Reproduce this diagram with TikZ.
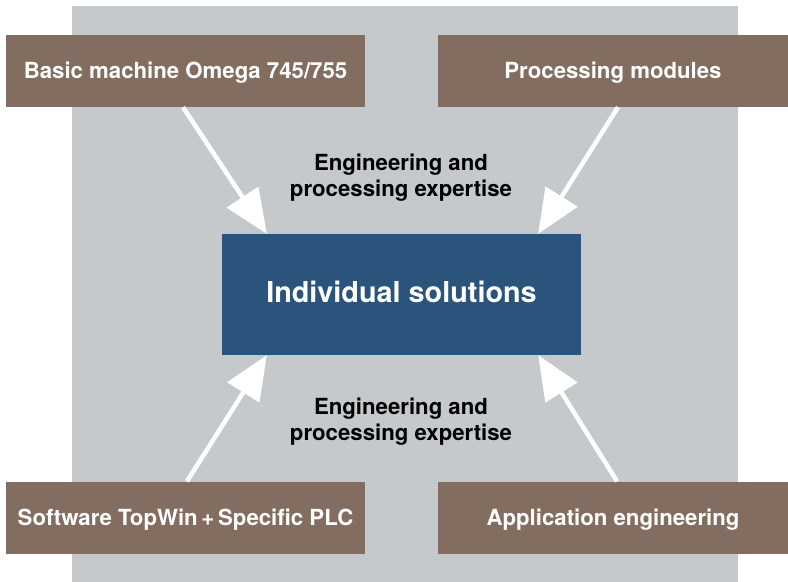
\documentclass[tikz,border=0pt]{standalone}
\usepackage{fontspec}
\setmainfont{TeX Gyre Heros}
\usetikzlibrary{arrows.meta,calc}
\definecolor{bgray}{RGB}{198,201,204}
\definecolor{bbrown}{RGB}{131,109,96}
\definecolor{bblue}{RGB}{42,84,123}
\begin{document}
\begin{tikzpicture}[x=1bp,y=-1bp,
  outbox/.style={fill=bbrown,draw=none,minimum width=359bp,minimum height=72bp,inner sep=0pt,
    text height=16bp,text depth=0pt,
    text=white,font=\fontsize{22.2bp}{26bp}\selectfont\bfseries},
  centerbox/.style={fill=bblue,draw=none,minimum width=359bp,minimum height=121bp,inner sep=0pt,
    text height=21bp,text depth=5bp,
    text=white,font=\fontsize{28.8bp}{32bp}\selectfont\bfseries},
  labeltext/.style={align=center,text=black,font=\fontsize{22.2bp}{26bp}\selectfont\bfseries},
  bigarrow/.style={draw=white,line width=4.5bp,-{Triangle[length=44bp,width=37bp]}}]
\useasboundingbox (0,0) rectangle (788,582);
\fill[bgray] (72,6) rectangle (738,582);
\node[outbox] (tl) at (185.5,71) {Basic machine Omega 745/755};
\node[outbox,minimum width=350bp] (tr) at (613,71) {Processing modules};
\node[outbox] (bl) at (185.5,517.5) {Software TopWin\,+\,Specific PLC};
\node[outbox,minimum width=350bp] (br) at (613,517.5) {Application engineering};
\node[centerbox] (cen) at (401.5,294.5) {Individual solutions};
\node[labeltext] (ltop) at (401,177.5) {Engineering and\\processing expertise};
\node[labeltext] (lbot) at (401,421.5) {Engineering and\\processing expertise};
\coordinate (s1) at ($(tl.south)+(-2.5,0)$);
\coordinate (t1) at ($(cen.north west)+(45,0)$);
\coordinate (s2) at ($(tr.south)+(5,0)$);
\coordinate (t2) at ($(cen.north east)+(-43,0)$);
\coordinate (s3) at ($(bl.north)+(1.5,0)$);
\coordinate (t3) at ($(cen.south west)+(45,0)$);
\coordinate (s4) at ($(br.north)+(4,0)$);
\coordinate (t4) at ($(cen.south east)+(-43,0)$);
\draw[bigarrow] (s1) -- (t1);
\draw[bigarrow] (s2) -- (t2);
\draw[bigarrow] (s3) -- (t3);
\draw[bigarrow] (s4) -- (t4);
\end{tikzpicture}
\end{document}
